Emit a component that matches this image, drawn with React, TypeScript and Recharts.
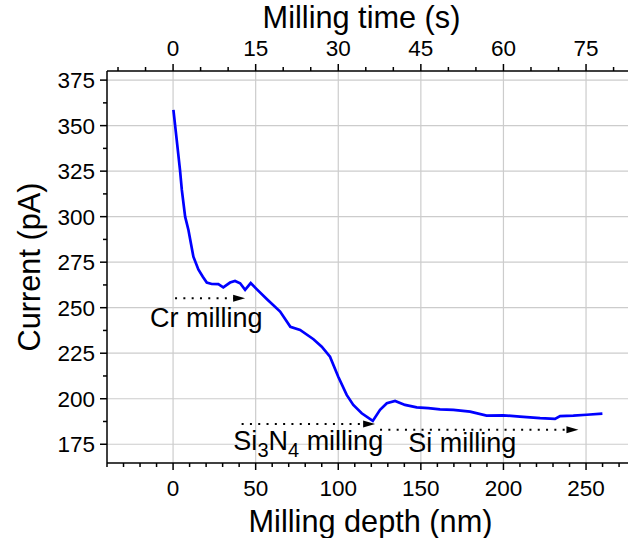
import React from "react";
import { LineChart, Line, XAxis, YAxis, ReferenceLine, ReferenceDot } from "recharts";

// measured trace: milling depth (nm) vs ion current (pA)
const depthNm = [
  0.2, 2.2, 4.2, 5.3, 7.3, 9.3, 12.3, 15.3, 18, 20.4, 23.4, 27.4, 30.4, 34.5, 37.5,
  40.6, 43.6, 47, 50.6, 56.7, 64.8, 71, 76.9, 85, 90, 95, 100, 105.1, 109.1, 114.2,
  120.9, 125.3, 129.4, 134.4, 140.4, 147.5, 154.5, 161.6, 169.7, 179.8, 189.8, 199.9,
  210, 222.2, 231.2, 234.3, 242.3, 250.4, 259.9,
];
const currentPa = [
  358.6, 342.2, 325.6, 314.7, 300, 292.7, 278, 271, 267, 263.8, 263, 262.9, 261.2, 263.8, 264.7,
  263.4, 259.8, 263.5, 260.2, 254.8, 247.9, 239.5, 237.8, 232.7, 228.6, 223.1, 212.1, 202.1, 196.6, 192,
  187.8, 193.9, 197.5, 198.8, 196.6, 195.3, 194.8, 194.2, 193.9, 192.9, 190.7, 190.9,
  190.2, 189.3, 188.9, 190.5, 190.7, 191.2, 191.8,
];

const depthTicks = [-40, -30, -20, -10, 0, 10, 20, 30, 40, 50, 60, 70, 80, 90, 100, 110, 120, 130, 140, 150, 160, 170, 180, 190, 200, 210, 220, 230, 240, 250, 260, 270];
const depthMajor = [0, 50, 100, 150, 200, 250];
const timeTicks = [-10, -5, 0, 5, 10, 15, 20, 25, 30, 35, 40, 45, 50, 55, 60, 65, 70, 75, 80];
const timeMajor = [0, 15, 30, 45, 60, 75];
const currentTicks = [175, 187.5, 200, 212.5, 225, 237.5, 250, 262.5, 275, 287.5, 300, 312.5, 325, 337.5, 350, 362.5, 375];
const currentMajor = [175, 200, 225, 250, 275, 300, 325, 350, 375];

// 15 s of milling = 50 nm
const NM_PER_S = 50 / 15;

// dotted arrows: [fromDepth, toDepth, current]
const crArrow = [1.2, 43.6, 255.2];
const sinArrow = [41.5, 122.3, 186.1];
const siArrow = [125.3, 245.4, 183];

const data = depthNm.map((d, i) => ({ depth: d, current: currentPa[i] }));

const FONT = "'Liberation Sans', Arial, sans-serif";
const TICK_FS = 22.5;
const TITLE_FS = 30.7;
const NOTE_FS = 27;

const BottomTick = ({ x, y, payload }: any) => {
  const major = depthMajor.includes(payload.value);
  return (
    <g>
      <line x1={x} y1={y} x2={x} y2={y + (major ? 7 : 4)} stroke="#000" strokeWidth={1.5} />
      {major && (
        <text x={x} y={y + 33} textAnchor="middle" fontSize={TICK_FS} fontFamily={FONT} fill="#000">
          {payload.value}
        </text>
      )}
    </g>
  );
};

const TopTick = ({ x, y, payload }: any) => {
  const t = Math.round(payload.value / NM_PER_S);
  const major = timeMajor.includes(t);
  return (
    <g>
      <line x1={x} y1={y} x2={x} y2={y - (major ? 7 : 4)} stroke="#000" strokeWidth={1.5} />
      {major && (
        <text x={x} y={y - 15} textAnchor="middle" fontSize={TICK_FS} fontFamily={FONT} fill="#000">
          {t}
        </text>
      )}
    </g>
  );
};

const LeftTick = ({ x, y, payload }: any) => {
  const major = currentMajor.includes(payload.value);
  return (
    <g>
      <line x1={x} y1={y} x2={x - (major ? 7 : 4)} y2={y} stroke="#000" strokeWidth={1.5} />
      {major && (
        <text x={x - 12} y={y + 8} textAnchor="end" fontSize={TICK_FS} fontFamily={FONT} fill="#000">
          {payload.value}
        </text>
      )}
    </g>
  );
};

const Arrow = (props: any) => {
  const { x1, y1, x2, y2 } = props;
  return (
    <g>
      <line x1={x1} y1={y1} x2={x2 - 10} y2={y2} stroke="#000" strokeWidth={2} strokeDasharray="2 6.3" />
      <polygon points={`${x2},${y2} ${x2 - 12},${y2 - 3.5} ${x2 - 12},${y2 + 3.5}`} fill="#000" />
    </g>
  );
};

const note = (content: React.ReactNode) => (p: any) => (
  <text x={p.cx} y={p.cy} fontSize={NOTE_FS} fontFamily={FONT} fill="#000">
    {content}
  </text>
);

export default function App() {
  return (
    <div style={{ position: "absolute", left: 0, top: 0, width: 628, height: 538, background: "#fff" }}>
      <LineChart width={628} height={538} data={data} margin={{ top: 0, right: 0, bottom: 0, left: 0 }}>
        <XAxis
          xAxisId={0}
          dataKey="depth"
          type="number"
          domain={[-40, 275.4]}
          allowDataOverflow
          ticks={depthTicks}
          interval={0}
          height={75}
          tickSize={0}
          tickMargin={0}
          tick={<BottomTick />}
          axisLine={{ stroke: "#000", strokeWidth: 1.5 }}
          label={(p: any) => (
            <text
              x={p.viewBox.x + p.viewBox.width / 2 + 3}
              y={p.viewBox.y + 69}
              textAnchor="middle"
              fontSize={TITLE_FS}
              fontFamily={FONT}
              fill="#000"
            >
              Milling depth (nm)
            </text>
          )}
        />
        <XAxis
          xAxisId="top"
          orientation="top"
          dataKey="depth"
          type="number"
          domain={[-40, 275.4]}
          allowDataOverflow
          ticks={timeTicks.map((t) => t * NM_PER_S)}
          interval={0}
          height={71}
          tickSize={0}
          tickMargin={0}
          tick={<TopTick />}
          axisLine={{ stroke: "#000", strokeWidth: 1.5 }}
          label={(p: any) => (
            <text
              x={p.viewBox.x + p.viewBox.width / 2 - 6}
              y={p.viewBox.y + 28}
              textAnchor="middle"
              fontSize={TITLE_FS}
              fontFamily={FONT}
              fill="#000"
            >
              Milling time (s)
            </text>
          )}
        />
        <YAxis
          type="number"
          domain={[164.7, 380]}
          allowDataOverflow
          ticks={currentTicks}
          interval={0}
          width={107}
          tickSize={0}
          tickMargin={0}
          tick={<LeftTick />}
          axisLine={{ stroke: "#000", strokeWidth: 1.5 }}
          label={(p: any) => (
            <text
              transform={`translate(${p.viewBox.x + 40},${p.viewBox.y + p.viewBox.height / 2}) rotate(-90)`}
              textAnchor="middle"
              fontSize={TITLE_FS}
              fontFamily={FONT}
              fill="#000"
            >
              Current (pA)
            </text>
          )}
        />

        {depthMajor.map((v) => (
          <ReferenceLine key={"gx" + v} x={v} stroke="#cccccc" strokeWidth={1.2} />
        ))}
        {currentMajor.map((v) => (
          <ReferenceLine key={"gy" + v} y={v} stroke="#cccccc" strokeWidth={1.2} />
        ))}

        <Line
          xAxisId="top"
          dataKey="current"
          stroke="none"
          dot={false}
          activeDot={false}
          isAnimationActive={false}
        />
        <Line
          xAxisId={0}
          type="linear"
          dataKey="current"
          stroke="#0000ff"
          strokeWidth={2.7}
          dot={false}
          isAnimationActive={false}
        />

        {[crArrow, sinArrow, siArrow].map((a, i) => (
          <ReferenceLine
            key={"ar" + i}
            segment={[{ x: a[0], y: a[2] }, { x: a[1], y: a[2] }]}
            shape={Arrow}
          />
        ))}

        <ReferenceDot x={-13.9} y={239.3} r={0} shape={note("Cr milling")} />
        <ReferenceDot
          x={36.5}
          y={171.9}
          r={0}
          shape={note(
            <>
              Si<tspan dy={7} fontSize={20}>3</tspan>
              <tspan dy={-7}>N</tspan>
              <tspan dy={7} fontSize={20}>4</tspan>
              <tspan dy={-7}> milling</tspan>
            </>
          )}
        />
        <ReferenceDot x={142.4} y={170.9} r={0} shape={note("Si milling")} />
      </LineChart>
    </div>
  );
}
